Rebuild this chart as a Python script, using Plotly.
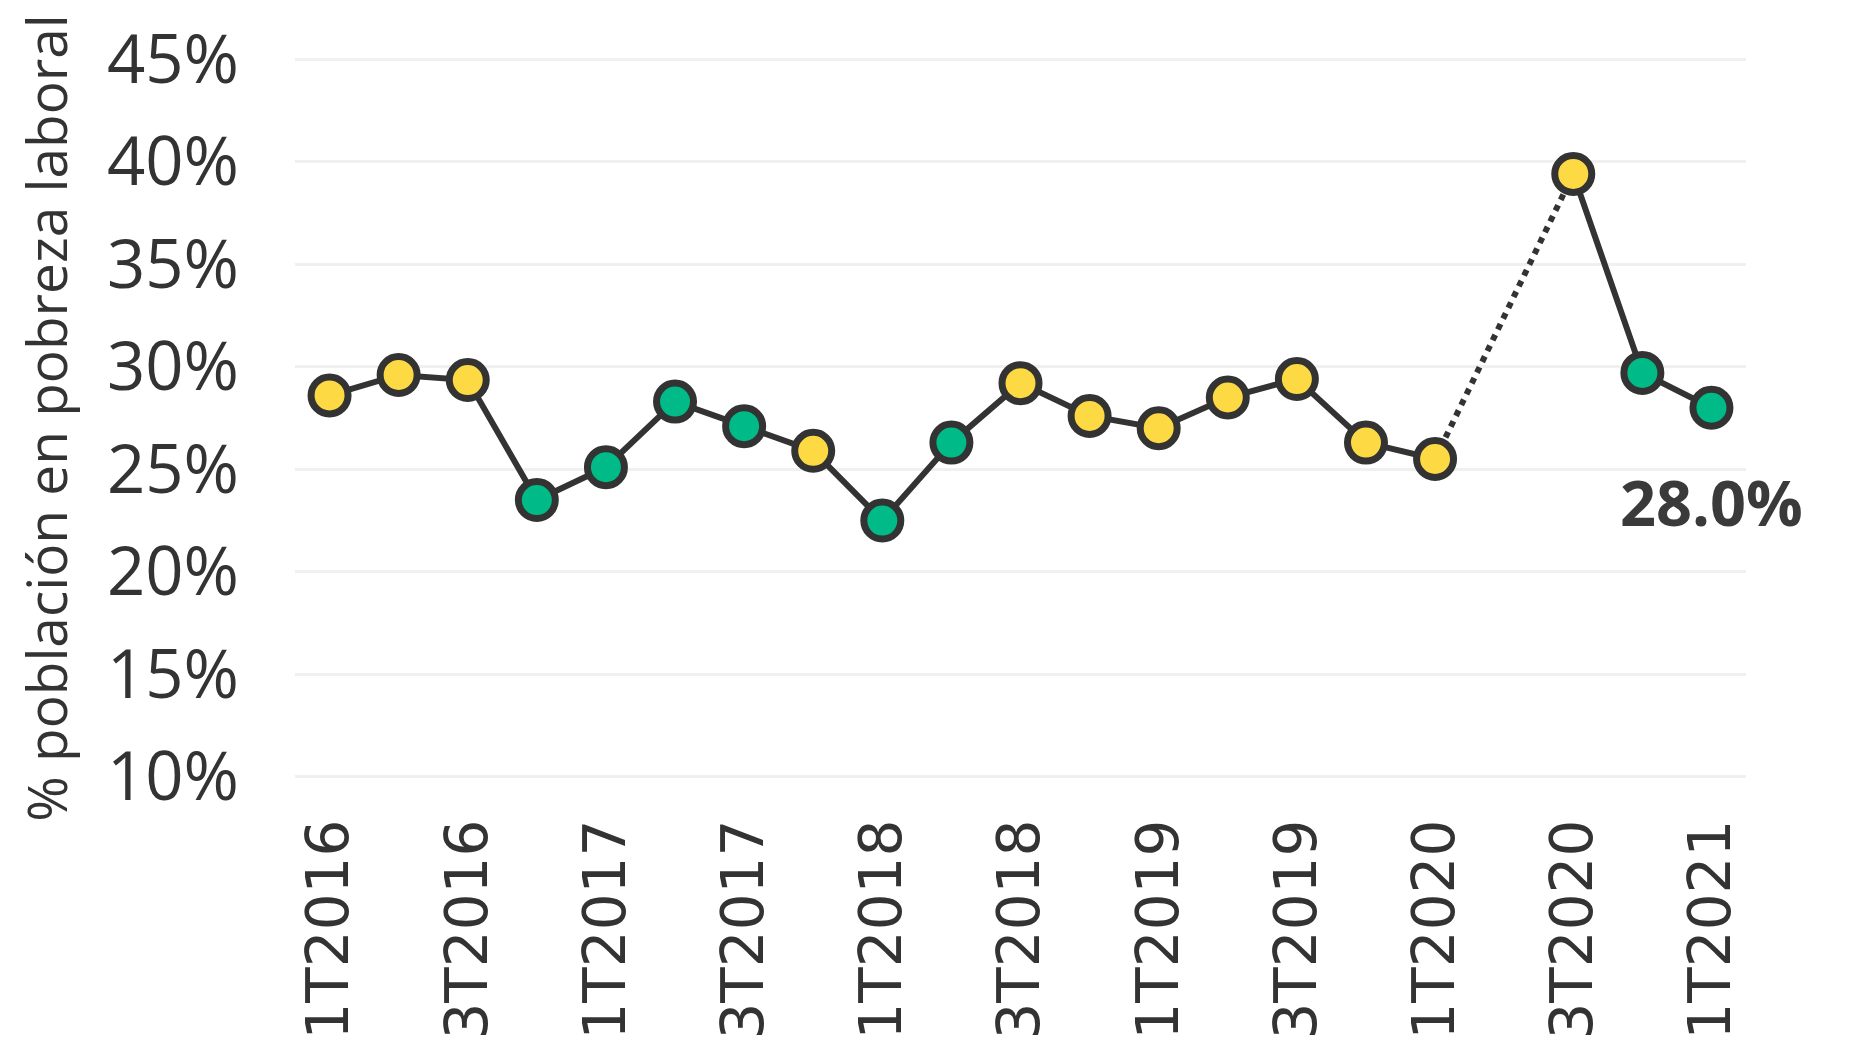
import plotly.graph_objects as go

categories = ["1T2016", "2T2016", "3T2016", "4T2016",
              "1T2017", "2T2017", "3T2017", "4T2017",
              "1T2018", "2T2018", "3T2018", "4T2018",
              "1T2019", "2T2019", "3T2019", "4T2019",
              "1T2020", "2T2020", "3T2020", "4T2020",
              "1T2021"]
values = [28.6, 29.6, 29.35, 23.5,
          25.1, 28.3, 27.1, 25.9,
          22.5, 26.3, 29.2, 27.6,
          27.0, 28.5, 29.4, 26.3,
          25.5, None, 39.4, 29.7,
          28.0]
point_colors = ["#FDDA44", "#FDDA44", "#FDDA44", "#00BA88",
                "#00BA88", "#00BA88", "#00BA88", "#FDDA44",
                "#00BA88", "#00BA88", "#FDDA44", "#FDDA44",
                "#FDDA44", "#FDDA44", "#FDDA44", "#FDDA44",
                "#FDDA44", None, "#FDDA44", "#00BA88",
                "#00BA88"]
gap_before = "1T2020"
gap_after = "3T2020"
tick_labels = categories[::2]
y_ticks = [10, 15, 20, 25, 30, 35, 40, 45]
y_tick_text = ["10%", "15%", "20%", "25%", "30%", "35%", "40%", "45%"]
last_label = "28.0%"

dark = "#333333"

fig = go.Figure()

# solid line (gap at missing quarter)
fig.add_trace(go.Scatter(
    x=categories, y=values, mode="lines",
    line=dict(color=dark, width=6), connectgaps=False,
    hoverinfo="skip", showlegend=False))

# dotted bridge across the missing quarter
i0, i1 = categories.index(gap_before), categories.index(gap_after)
fig.add_trace(go.Scatter(
    x=[categories[i0], categories[i1]], y=[values[i0], values[i1]],
    mode="lines", line=dict(color=dark, width=6, dash="dot"),
    hoverinfo="skip", showlegend=False))

# markers
mx = [c for c, v in zip(categories, values) if v is not None]
my = [v for v in values if v is not None]
mc = [col for col, v in zip(point_colors, values) if v is not None]
fig.add_trace(go.Scatter(
    x=mx, y=my, mode="markers",
    marker=dict(size=37, color=mc, line=dict(color=dark, width=7)),
    showlegend=False))

fig.add_annotation(
    x=categories[-1], y=values[-1], text=last_label, showarrow=False,
    xanchor="center", yanchor="middle", yshift=-94,
    font=dict(family="Open Sans", size=63, color="#3a3a3a", weight="bold"))

fig.update_layout(
    width=1875, height=1064,
    margin=dict(l=287, r=137, t=45, b=289),
    paper_bgcolor="white", plot_bgcolor="white",
    font=dict(family="Open Sans", color=dark),
)

fig.update_xaxes(
    type="category", categoryorder="array", categoryarray=categories,
    range=[-0.5, len(categories) - 0.5],
    tickmode="array", tickvals=tick_labels, ticktext=tick_labels,
    tickangle=-90, tickfont=dict(family="DejaVu Sans", size=58, color=dark),
    showgrid=False, showline=False, zeroline=False, ticks="",
    ticklabelstandoff=24, automargin=False,
)

fig.update_yaxes(
    range=[9.7, 45.3], tickmode="array", tickvals=y_ticks, ticktext=y_tick_text,
    tickfont=dict(family="Open Sans", size=67, color=dark),
    showgrid=True, gridcolor="#f0f0f0", gridwidth=3,
    zeroline=False, showline=False, ticks="",
    ticklabelstandoff=55, automargin=False,
    title=dict(text="% población en pobreza laboral",
               font=dict(family="Open Sans", size=55, color=dark),
               standoff=30),
)

fig.write_html("out.html")
